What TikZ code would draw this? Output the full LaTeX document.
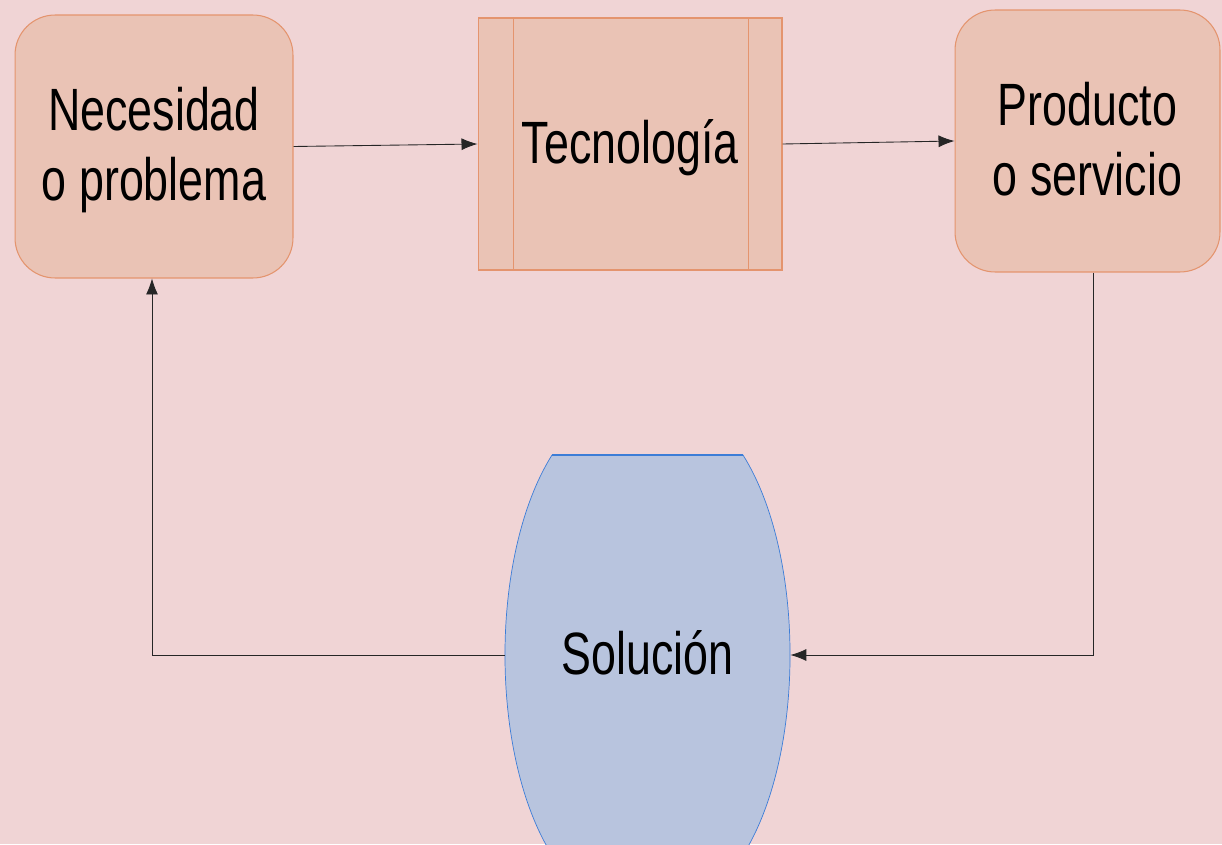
\documentclass[tikz,border=0pt]{standalone}
\usepackage{fontspec}
\setmainfont{Liberation Sans}
\usetikzlibrary{arrows.meta,calc}
\definecolor{fondo}{RGB}{240,212,213}
\definecolor{salmon}{RGB}{234,195,181}
\definecolor{borde}{RGB}{228,148,110}
\definecolor{azul}{RGB}{184,196,222}
\definecolor{azulborde}{RGB}{60,125,215}
\newcommand{\etiq}[1]{\fontsize{34}{40}\selectfont\raisebox{-3pt}[\height][\depth]{\scalebox{0.75}[1]{\begin{tabular}{@{}c@{}}#1\end{tabular}}}}
\begin{document}
\begin{tikzpicture}[x=0.02cm,y=-0.02cm]
\tikzset{caja/.style={draw=borde, fill=salmon, rounded corners=0.8cm, line width=0.6pt},
  proceso/.style={draw=borde, fill=salmon, line width=0.6pt},
  flecha/.style={draw=black!85, line width=0.5pt, -{Latex[length=0.32cm,width=0.24cm]}}}
\fill[fondo] (0,0) rectangle (1222,844);
\useasboundingbox (0,0) rectangle (1222,844);
\node[caja, minimum width=5.56cm, minimum height=5.26cm] (nec) at (154,146.5) {\etiq{Necesidad\\o problema}};
\node[proceso, minimum width=6.08cm, minimum height=5.04cm] (tec) at (630,144) {\etiq{Tecnología}};
\draw[borde, line width=0.6pt] ([xshift=0.72cm]tec.north west) -- ([xshift=0.72cm]tec.south west);
\draw[borde, line width=0.6pt] ([xshift=-0.68cm]tec.north east) -- ([xshift=-0.68cm]tec.south east);
\node[caja, minimum width=5.3cm, minimum height=5.24cm] (pro) at (1087.5,141) {\etiq{Producto\\o servicio}};
% barril de la solucion
\coordinate (solc) at (647.5,655);
\filldraw[fill=azul, draw=azulborde, line width=0.4pt] ($(solc)+(-95.5,-200)$) -- ($(solc)+(95.5,-200)$)
  .. controls ($(solc)+(158.2,-100)$) and ($(solc)+(158.2,100)$) .. ($(solc)+(95.5,200)$)
  -- ($(solc)+(-95.5,200)$)
  .. controls ($(solc)+(-158.2,100)$) and ($(solc)+(-158.2,-100)$) .. cycle;
\draw[azulborde, line width=1.2pt] ($(solc)+(-95.5,-200)$) -- ($(solc)+(95.5,-200)$);
\node[minimum width=5.7cm, minimum height=8cm, inner sep=0pt] (sol) at (solc) {\etiq{Solución}};
\draw[flecha] (nec.east) -- (tec.west);
\draw[flecha] (tec.east) -- (pro.west);
\draw[flecha] ([xshift=0.11cm]pro.south) |- (sol.east);
\draw[flecha] (sol.west) -| ([xshift=-0.04cm]nec.south);
\end{tikzpicture}
\end{document}
